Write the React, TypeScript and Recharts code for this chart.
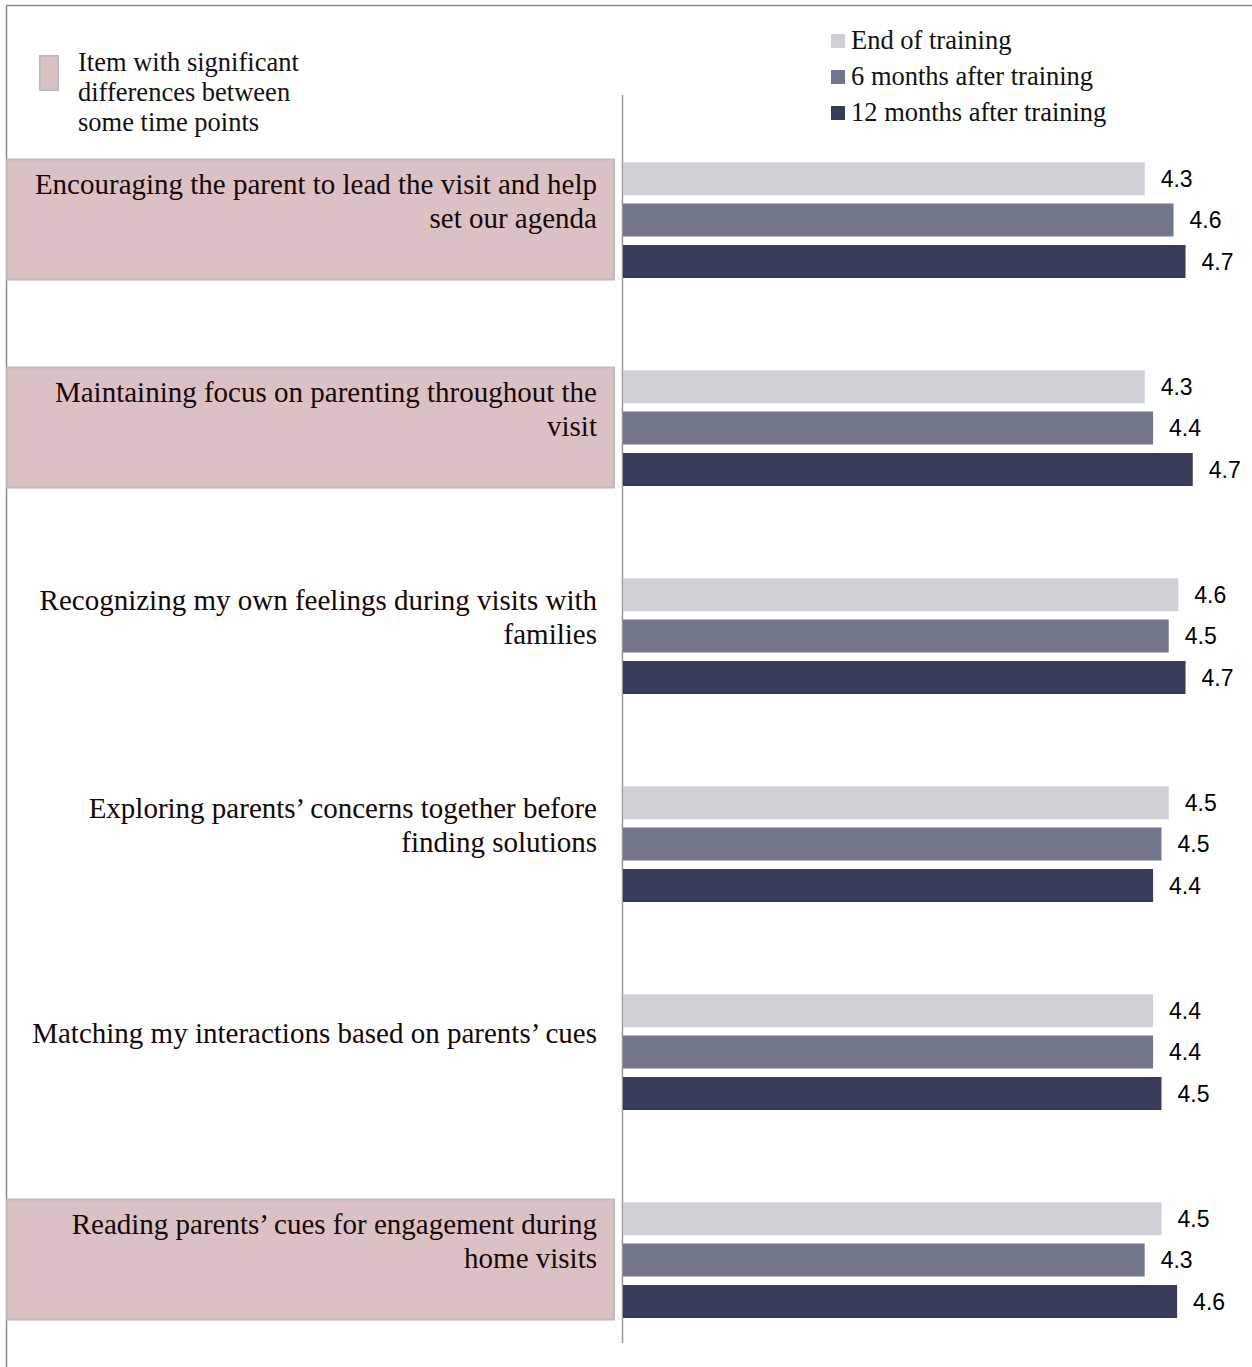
import React from 'react';
import { BarChart, Bar, XAxis, YAxis, LabelList, Legend, Customized } from 'recharts';

// ---------- data ----------
const categories = [
  'Encouraging the parent to lead the visit and help\nset our agenda',
  'Maintaining focus on parenting throughout the\nvisit',
  'Recognizing my own feelings during visits with\nfamilies',
  'Exploring parents\u2019 concerns together before\nfinding solutions',
  'Matching my interactions based on parents\u2019 cues',
  'Reading parents\u2019 cues for engagement during\nhome visits',
];
const significant = [true, true, false, false, false, true];
const endOfTraining = [4.34, 4.34, 4.62, 4.54, 4.41, 4.48];
const sixMonths = [4.58, 4.41, 4.54, 4.48, 4.41, 4.34];
const twelveMonths = [4.68, 4.74, 4.68, 4.41, 4.48, 4.61];
const seriesNames = ['End of training', '6 months after training', '12 months after training'];
const significanceNote = ['Item with significant', 'differences between', 'some time points'];
const xDomain = [0, 5];

const data = categories.map((name, i) => ({
  name,
  end: endOfTraining[i],
  six: sixMonths[i],
  twelve: twelveMonths[i],
}));

// ---------- style ----------
const W = 1252;
const H = 1367;
const AXIS_W = 623;
const SERIF = '"Liberation Serif", "Times New Roman", serif';
const SANS = '"Liberation Sans", Arial, sans-serif';
const COLORS = ['#CFD0D5', '#71768A', '#383C58'];
const PINK = '#DCC1C4';
const BOX_STROKE = '#BDBDBD';

const CategoryTick = (props: any) => {
  const { y, payload } = props;
  const i = categories.indexOf(payload.value);
  const lines = String(payload.value).split('\n');
  const tx = AXIS_W - 26;
  const firstBase = y - 20 - (lines.length - 1) * 17 + 10;
  return (
    <g>
      {significant[i] && (
        <rect x={7} y={y - 61} width={607} height={120} fill={PINK} stroke={BOX_STROKE} strokeWidth={2} />
      )}
      <text x={tx} y={firstBase} textAnchor="end" fontFamily={SERIF} fontSize={29} fill="#140808">
        {lines.map((l, k) => (
          <tspan key={k} x={tx} dy={k === 0 ? 0 : 34}>
            {l}
          </tspan>
        ))}
      </text>
    </g>
  );
};

const Overlay = () => (
  <g>
    <line x1={6} y1={5.5} x2={W} y2={5.5} stroke="#8a8a8a" strokeWidth={1.5} />
    <line x1={6.5} y1={5} x2={6.5} y2={H} stroke="#8a8a8a" strokeWidth={1.5} />
    <line x1={AXIS_W - 0.5} y1={95} x2={AXIS_W - 0.5} y2={1343} stroke="#9a9a9a" strokeWidth={1.5} />
    <rect x={40} y={56} width={18} height={34} fill={PINK} stroke={BOX_STROKE} strokeWidth={2} />
    <text fontFamily={SERIF} fontSize={26.5} fill="#111">
      {significanceNote.map((t, k) => (
        <tspan key={k} x={78} y={70.5 + k * 30}>
          {t}
        </tspan>
      ))}
    </text>
  </g>
);

const renderLegend = (props: any) => {
  const payload = [...(props.payload || [])].sort(
    (a: any, b: any) => seriesNames.indexOf(a.value) - seriesNames.indexOf(b.value)
  );
  return (
    <svg width={320} height={110} style={{ display: 'block' }}>
      {payload.map((e: any, k: number) => (
        <g key={k}>
          <rect x={0} y={14 + k * 36} width={14} height={14} fill={e.color} />
          <text x={20} y={28.5 + k * 36} fontFamily={SERIF} fontSize={26.5} fill="#111">
            {e.value}
          </text>
        </g>
      ))}
    </svg>
  );
};

const fmt = (v: any) => Number(v).toFixed(1);
const labelProps = { position: 'right' as const, offset: 16, formatter: fmt, fontFamily: SANS, fontSize: 23, fill: '#000' };

export default function App() {
  return (
    <div style={{ position: 'absolute', left: 0, top: 0, width: W, height: H, background: '#fff' }}>
      <BarChart
        width={W}
        height={H}
        data={data}
        layout="vertical"
        margin={{ top: 116.5, right: 28, bottom: 2.5, left: 0 }}
        barCategoryGap={45.75}
        barGap={8.33}
      >
        <XAxis type="number" domain={xDomain} hide />
        <YAxis
          type="category"
          dataKey="name"
          width={AXIS_W}
          axisLine={false}
          tickLine={false}
          interval={0}
          tick={<CategoryTick />}
        />
        <Customized component={Overlay} />
        <Legend
          layout="vertical"
          align="center"
          verticalAlign="middle"
          content={renderLegend}
          wrapperStyle={{ position: 'absolute', left: 831, top: 20, width: 320, height: 110 }}
        />
        <Bar dataKey="end" name={seriesNames[0]} fill={COLORS[0]} isAnimationActive={false}>
          <LabelList dataKey="end" {...labelProps} />
        </Bar>
        <Bar dataKey="six" name={seriesNames[1]} fill={COLORS[1]} isAnimationActive={false}>
          <LabelList dataKey="six" {...labelProps} />
        </Bar>
        <Bar dataKey="twelve" name={seriesNames[2]} fill={COLORS[2]} isAnimationActive={false}>
          <LabelList dataKey="twelve" {...labelProps} />
        </Bar>
      </BarChart>
    </div>
  );
}
